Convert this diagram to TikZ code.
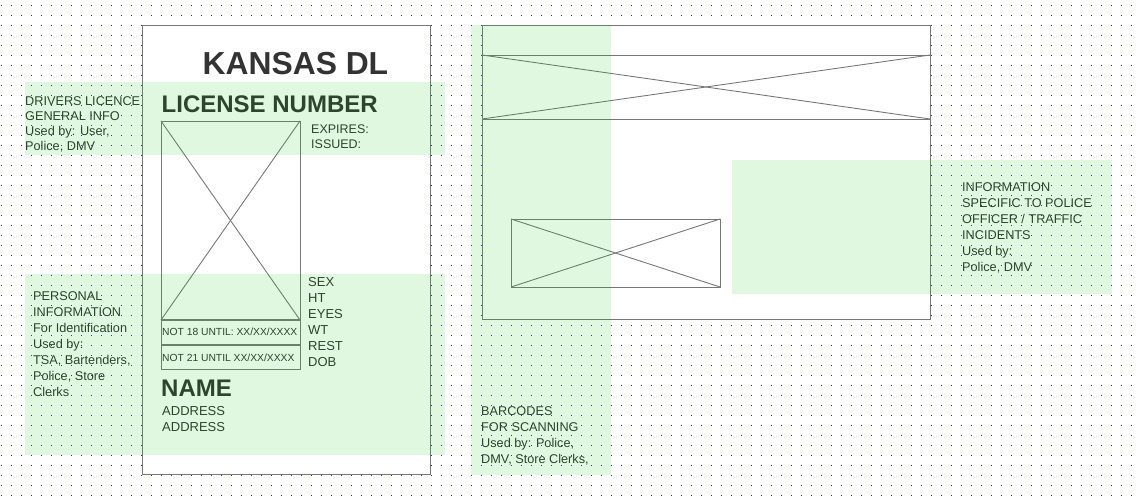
\documentclass[tikz,border=0pt]{standalone}
\usepackage{fontspec}
\setmainfont{Liberation Sans}
\definecolor{dotc}{RGB}{40,40,175}
\definecolor{linec}{RGB}{120,120,120}
\definecolor{txt}{RGB}{51,51,51}
\definecolor{hl}{RGB}{0,200,0}
\tikzset{
  card/.style={draw=linec, line width=1pt, fill=white, inner sep=0pt, outer sep=0pt, anchor=north west},
  wbox/.style={draw=linec, line width=1pt, inner sep=0pt, outer sep=0pt, anchor=north west},
  xline/.style={draw=linec, line width=0.9pt},
  hlbox/.style={fill=hl, fill opacity=0.12, inner sep=0pt, outer sep=0pt, anchor=north west},
  lbl/.style={text=txt, inner sep=0pt, anchor=base west, align=left, font=\fontsize{12.7}{16}\selectfont},
  fld/.style={text=txt, inner sep=0pt, anchor=base west, align=left, font=\fontsize{13}{16}\selectfont},
  small/.style={text=txt, inner sep=0pt, anchor=base west, font=\fontsize{10.3}{12}\selectfont},
  big/.style={text=txt, inner sep=0pt, anchor=base west, font=\bfseries\fontsize{24}{26}\selectfont},
}
\begin{document}
\begin{tikzpicture}[x=1pt,y=-1pt]
\useasboundingbox (0,0) rectangle (1140,498);
\fill[white] (0,0) rectangle (1140,498);
% dot grid
\foreach \i in {0,...,113}{
  \foreach \j in {0,...,49}{
    \fill[dotc] ({0.6+10*\i},{4.6+10*\j}) rectangle ++(0.9,0.9);
  }
}
% cards
\node[card, minimum width=288pt, minimum height=449pt] (card1) at (142,25) {};
\node[card, minimum width=448pt, minimum height=294pt] (card2) at (482,25) {};
% card 2 top image placeholder
\node[wbox, minimum width=448pt, minimum height=64pt] (img) at (482,55) {};
\draw[xline] (img.north west) -- (img.south east);
\draw[xline] (img.south west) -- (img.north east);
% barcode box
\node[wbox, minimum width=209pt, minimum height=68pt] (bar) at (511,219) {};
\draw[xline] (bar.north west) -- (bar.south east);
\draw[xline] (bar.south west) -- (bar.north east);
% photo
\node[wbox, minimum width=139pt, minimum height=199pt] (photo) at (161,121) {};
\draw[xline] (photo.north west) -- (photo.south east);
\draw[xline] (photo.south west) -- (photo.north east);
\node[wbox, minimum width=139pt, minimum height=25pt] (row18) at (161,320) {};
\node[wbox, minimum width=139pt, minimum height=24pt] (row21) at (161,345) {};
\draw[linec, line width=1.8pt] (row18.north west) -- (row18.north east);
\draw[linec, line width=1.8pt] (row21.north west) -- (row21.north east);
% card 1 text (multi-line nodes are placed by the baseline of their last line)
\node[text=txt, inner sep=0pt, anchor=base west, font=\bfseries\fontsize{31.8}{34}\selectfont] (title) at (202.5,74) {KANSAS DL};
\node[big] (licno) at (161.5,112.5) {LICENSE NUMBER};
\node[fld, font=\fontsize{12.5}{15}\selectfont] (dates) at (311,148) {EXPIRES:\\ISSUED:};
\node[fld] (stats) at (308,366.5) {SEX\\HT\\EYES\\WT\\REST\\DOB};
\node[small] (t18) at (162,335) {NOT 18 UNTIL: XX/XX/XXXX};
\node[small] (t21) at (162,361.5) {NOT 21 UNTIL XX/XX/XXXX};
\node[big] (name) at (161,396.5) {NAME};
\node[fld, font=\fontsize{13}{15.6}\selectfont] (addr) at (162,431.1) {ADDRESS\\ADDRESS};
% side labels
\node[lbl, font=\fontsize{12.7}{15.2}\selectfont] (lab1) at (25,150.6) {DRIVERS LICENCE\\GENERAL INFO\\Used by: User,\\Police, DMV};
\node[lbl] (lab2) at (33,396) {PERSONAL\\INFORMATION\\For Identification\\Used by:\\TSA, Bartenders,\\Police, Store\\Clerks};
\node[lbl] (lab3) at (962,271.5) {INFORMATION\\SPECIFIC TO POLICE\\OFFICER / TRAFFIC\\INCIDENTS\\Used by:\\Police, DMV};
\node[lbl] (lab4) at (481,463) {BARCODES\\FOR SCANNING\\Used by: Police,\\DMV, Store Clerks,};
% highlight overlays
\node[hlbox, minimum width=420pt, minimum height=73pt] (hl1) at (25,82) {};
\node[hlbox, minimum width=420pt, minimum height=181pt] (hl2) at (25,274) {};
\node[hlbox, minimum width=140pt, minimum height=450pt] (hl3) at (471,25) {};
\node[hlbox, minimum width=380pt, minimum height=134pt] (hl4) at (732,160) {};
\end{tikzpicture}
\end{document}
